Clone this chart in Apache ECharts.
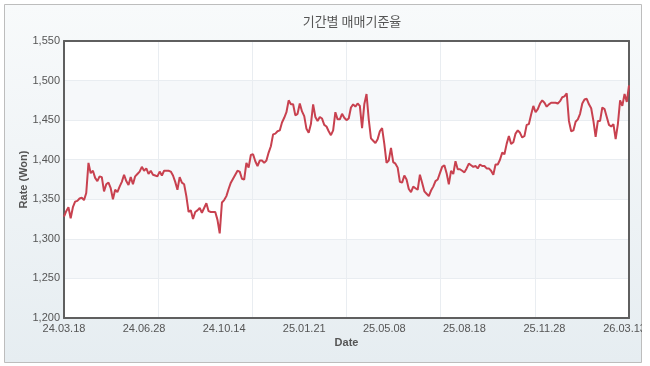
<!DOCTYPE html>
<html><head><meta charset="utf-8">
<script src="https://cdn.jsdelivr.net/npm/echarts@6/dist/echarts.min.js"></script>
<style>html,body{margin:0;padding:0;background:#fff}#c{width:650px;height:366px}</style>
</head><body><div id="c"></div>
<script>
const chartTitle = '기간별 매매기준율';
const xName = 'Date';
const yName = 'Rate (Won)';
const tickLabels = ['24.03.18','24.06.28','24.10.14','25.01.21','25.05.08','25.08.18','25.11.28','26.03.13'];
const values = [
1328,1335,1340,1326,1340,1347,1348,1351,1352,1349,
1358,1396,1383,1386,1377,1373,1379,1378,1360,1369,
1371,1364,1350,1362,1359,1366,1372,1381,1373,1368,
1378,1369,1379,1382,1385,1391,1386,1389,1382,1386,
1381,1380,1379,1385,1380,1386,1386,1386,1385,1380,
1372,1362,1378,1371,1369,1354,1334,1336,1325,1334,
1336,1339,1333,1339,1345,1335,1334,1334,1334,1324,
1307,1346,1349,1354,1363,1371,1376,1381,1386,1385,
1376,1375,1396,1390,1406,1407,1398,1392,1399,1399,
1396,1399,1409,1417,1432,1433,1436,1437,1447,1453,
1460,1475,1470,1470,1456,1458,1471,1461,1455,1439,
1434,1445,1470,1454,1449,1454,1452,1444,1442,1436,
1431,1437,1460,1451,1451,1458,1453,1450,1452,1466,
1470,1467,1471,1468,1440,1470,1483,1451,1427,1424,
1421,1426,1436,1440,1420,1396,1399,1415,1397,1395,
1390,1372,1371,1380,1375,1363,1359,1366,1364,1362,
1381,1371,1360,1357,1354,1361,1366,1373,1375,1383,
1391,1393,1383,1369,1386,1382,1398,1388,1388,1386,
1384,1389,1395,1393,1391,1392,1389,1394,1392,1392,
1389,1389,1386,1381,1394,1394,1400,1409,1407,1420,
1430,1420,1422,1433,1437,1434,1428,1430,1444,1445,
1457,1468,1460,1464,1471,1475,1472,1467,1470,1472,
1472,1472,1471,1474,1479,1480,1484,1449,1436,1437,
1448,1451,1458,1471,1476,1477,1470,1465,1449,1429,
1449,1449,1466,1464,1454,1444,1442,1445,1426,1445,
1475,1468,1483,1473,1494
];
const labelStep = 36;
const categories = values.map((v, i) => (i % labelStep === 0 ? (tickLabels[i / labelStep] || '') : ''));

const chart = echarts.init(document.getElementById('c'), null, {renderer: 'canvas'});
const labelFont = {fontFamily: 'Liberation Sans, Arial, sans-serif', fontSize: 11, color: '#555'};
const frameLine = {show: true, lineStyle: {color: '#5f5f5f', width: 2}};
const gridLine = {show: true, lineStyle: {color: '#e9edf1', width: 1}};
chart.setOption({
  animation: false,
  backgroundColor: '#ffffff',
  graphic: [
    {type: 'rect', z: -10, silent: true,
     shape: {x: 4.5, y: 4.5, width: 637, height: 358},
     style: {fill: new echarts.graphic.LinearGradient(0, 0, 0, 1, [{offset: 0, color: '#f8fafb'}, {offset: 1, color: '#e6edf1'}]), stroke: '#bdbdbd', lineWidth: 1}},
    {type: 'rect', z: 100, silent: true,
     shape: {x: 642, y: 0, width: 8, height: 366},
     style: {fill: '#ffffff'}}
  ],
  title: {
    text: chartTitle, left: 347, top: 10, textAlign: 'center',
    textStyle: {fontFamily: 'Noto Sans CJK KR, sans-serif', fontSize: 13, fontWeight: 'normal', color: '#555'}
  },
  grid: {left: 64, top: 41, right: 21, bottom: 48, show: true, backgroundColor: '#ffffff', borderWidth: 0, containLabel: false},
  xAxis: [
    {type: 'category', data: categories, boundaryGap: false,
     name: xName, nameLocation: 'middle', nameGap: 19, nameMoveOverlap: false,
     nameTextStyle: {fontFamily: 'Liberation Sans, Arial, sans-serif', fontSize: 11, fontWeight: 'bold', color: '#555'},
     axisLine: frameLine, axisTick: {show: false}, splitLine: {show: false},
     axisLabel: Object.assign({interval: labelStep - 1, margin: 5}, labelFont)},
    {type: 'value', min: 0, max: 6, interval: 1, position: 'top',
     axisLine: frameLine, axisTick: {show: false}, axisLabel: {show: false},
     splitLine: gridLine}
  ],
  yAxis: [
    {type: 'value', min: 1200, max: 1550, interval: 50,
     name: yName, nameLocation: 'middle', nameGap: 35, nameMoveOverlap: false,
     nameTextStyle: {fontFamily: 'Liberation Sans, Arial, sans-serif', fontSize: 11, fontWeight: 'bold', color: '#555'},
     axisLine: frameLine, axisTick: {show: false},
     axisLabel: Object.assign({margin: 4, formatter: v => v.toLocaleString('en-US')}, labelFont),
     splitLine: gridLine,
     splitArea: {show: true, areaStyle: {color: ['#ffffff', '#f6f8fa']}}},
    {type: 'value', min: 1200, max: 1550, interval: 50, position: 'right',
     axisLine: frameLine, axisTick: {show: false}, axisLabel: {show: false},
     splitLine: {show: false}}
  ],
  series: [{
    type: 'line', data: values, xAxisIndex: 0, yAxisIndex: 0, showSymbol: false, symbol: 'none',
    lineStyle: {color: '#c8414f', width: 2}, itemStyle: {color: '#c8414f'}
  }]
});
</script></body></html>
